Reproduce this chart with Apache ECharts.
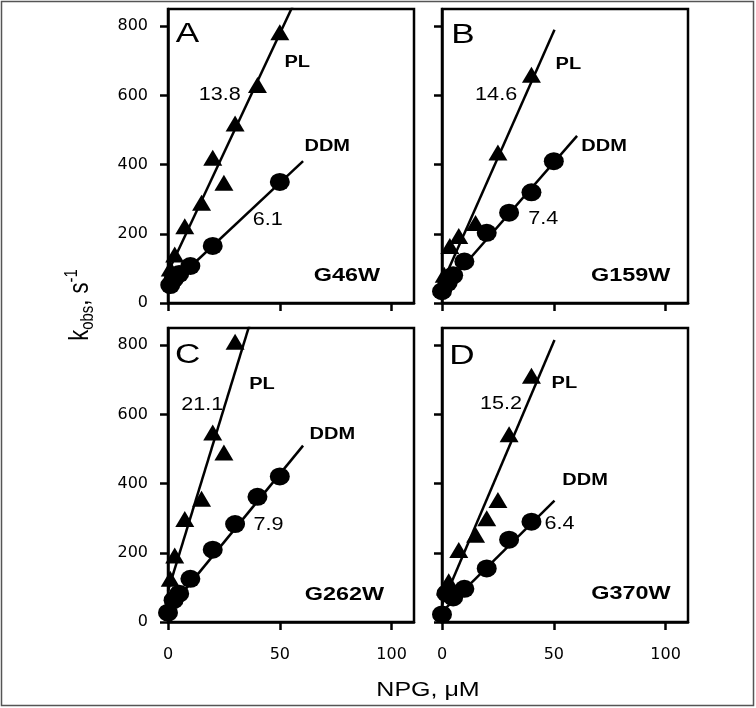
<!DOCTYPE html>
<html><head><meta charset="utf-8">
<script src="https://cdn.jsdelivr.net/npm/echarts@6/dist/echarts.min.js"></script>
<style>html,body{margin:0;padding:0;background:#fff}#c{width:756px;height:708px}</style>
</head><body><div id="c"></div>
<script>
// ---- data ----
const xTicks = [0, 50, 100];
const yTicks = [0, 200, 400, 600, 800];
const panelLetters = ['A', 'B', 'C', 'D'];
const mutants = ['G46W', 'G159W', 'G262W', 'G370W'];
const slopePL = ['13.8', '14.6', '21.1', '15.2'];
const slopeDDM = ['6.1', '7.4', '7.9', '6.4'];

// Panel A (G46W)
const plX_A = [1, 3, 7.5, 15, 20, 25, 30, 40, 50];
const plY_A = [100, 140, 222, 290, 420, 348, 519, 630, 783];
const ddmX_A = [1, 2.5, 5, 10, 20, 50];
const ddmY_A = [52, 68, 84, 107, 165, 350];
const fitPL_A = [[0, 89], [60, 917]];
const fitDDM_A = [[0, 44], [60.4, 410]];

// Panel B (G159W)
const plX_B = [1, 3.5, 7.5, 15, 25, 40];
const plY_B = [82, 165, 194, 231, 435, 660];
const ddmX_B = [0, 2.5, 5, 10, 20, 30, 40, 50];
const ddmY_B = [34, 58, 80, 120, 203, 261, 320, 410];
const fitPL_B = [[0, 55], [50.3, 790]];
const fitDDM_B = [[0, 36], [60.4, 483]];

// Panel C (G262W)
const plX_C = [1, 3, 7.5, 15, 20, 25, 30];
const plY_C = [125, 192, 298, 356, 548, 490, 810];
const ddmX_C = [0, 2.5, 5, 10, 20, 30, 40, 50];
const ddmY_C = [27, 63, 82, 125, 209, 283, 362, 421];
const fitPL_C = [[0, 90], [40, 934]];
const fitDDM_C = [[0, 33], [60.4, 510]];

// Panel D (G370W)
const plX_D = [1.5, 3, 7.5, 15, 20, 25, 30, 40];
const plY_D = [100, 118, 208, 252, 300, 353, 543, 712];
const ddmX_D = [0, 2, 5, 10, 20, 30, 40];
const ddmY_D = [22, 83, 71, 96, 155, 238, 290];
const fitPL_D = [[0, 50], [50.3, 815]];
const fitDDM_D = [[0, 29], [50.3, 351]];

// annotation anchors in data coordinates: [panel, kind, text, x, y]
const notes = [
  [0, 'letter', panelLetters[0], 8.7, 776], [0, 'tag', 'PL', 57.8, 695], [0, 'num', slopePL[0], 23.1, 601],
  [0, 'tag', 'DDM', 71.2, 453], [0, 'num', slopeDDM[0], 44.6, 241], [0, 'mut', mutants[0], 80, 78],
  [1, 'letter', panelLetters[1], 9.4, 774], [1, 'tag', 'PL', 56.5, 689], [1, 'num', slopePL[1], 24.2, 601],
  [1, 'tag', 'DDM', 72.5, 453], [1, 'num', slopeDDM[1], 45.3, 244], [1, 'mut', mutants[1], 84.4, 79],
  [2, 'letter', panelLetters[2], 8.8, 771], [2, 'tag', 'PL', 42, 685], [2, 'num', slopePL[2], 15.3, 626],
  [2, 'tag', 'DDM', 73.5, 543], [2, 'num', slopeDDM[2], 44.9, 280], [2, 'mut', mutants[2], 78.9, 77],
  [3, 'letter', panelLetters[3], 8.9, 768], [3, 'tag', 'PL', 54.7, 689], [3, 'num', slopePL[3], 26.4, 630],
  [3, 'tag', 'DDM', 64, 410], [3, 'num', slopeDDM[3], 52.5, 284], [3, 'mut', mutants[3], 84.5, 81]
];

// ---- chart ----
const FONT = "'Liberation Sans', Arial, Helvetica, sans-serif";
const panelsData = [
  [plX_A, plY_A, ddmX_A, ddmY_A, fitPL_A, fitDDM_A],
  [plX_B, plY_B, ddmX_B, ddmY_B, fitPL_B, fitDDM_B],
  [plX_C, plY_C, ddmX_C, ddmY_C, fitPL_C, fitDDM_C],
  [plX_D, plY_D, ddmX_D, ddmY_D, fitPL_D, fitDDM_D]
];
const gridPos = [{left: 168, top: 9}, {left: 442, top: 9}, {left: 168, top: 328}, {left: 442, top: 328}];
const zip = (xs, ys) => xs.map((x, i) => [x, ys[i]]);

const chart = echarts.init(document.getElementById('c'), null, {renderer: 'canvas'});
const series = [];
panelsData.forEach((p, i) => {
  const [px, py, dx, dy, fp, fd] = p;
  const lineBase = {type: 'line', xAxisIndex: i, yAxisIndex: i, symbol: 'none', clip: true,
    lineStyle: {color: '#000', width: 2.5}, z: 2, silent: true};
  series.push(Object.assign({}, lineBase, {name: 'PL fit', data: fp}));
  series.push(Object.assign({}, lineBase, {name: 'DDM fit', data: fd}));
  series.push({type: 'scatter', name: 'PL', xAxisIndex: i, yAxisIndex: i, data: zip(px, py),
    symbol: 'triangle', symbolSize: [19, 16], itemStyle: {color: '#000', opacity: 1}, z: 3, clip: false});
  series.push({type: 'scatter', name: 'DDM', xAxisIndex: i, yAxisIndex: i, data: zip(dx, dy),
    symbol: 'circle', symbolSize: [20, 18], itemStyle: {color: '#000', opacity: 1}, z: 4, clip: false});
});

chart.setOption({
  animation: false,
  backgroundColor: '#fff',
  grid: gridPos.map(g => ({left: g.left, top: g.top, width: 246, height: 294, show: true,
    borderColor: '#000', borderWidth: 2.5, backgroundColor: 'transparent'})),
  xAxis: [0, 1, 2, 3].map(i => ({
    type: 'value', gridIndex: i, min: 0, max: 110, interval: 50,
    axisLine: {show: true, onZero: false, lineStyle: {color: '#000', width: 2.5}},
    axisTick: {show: true, inside: false, length: 8, lineStyle: {color: '#000', width: 2.5}, customValues: xTicks},
    axisLabel: {show: i >= 2, customValues: xTicks, margin: 25, fontSize: 16, color: '#000', fontFamily: "'DejaVu Sans', sans-serif"},
    splitLine: {show: false}
  })),
  yAxis: [0, 1, 2, 3].map(i => ({
    type: 'value', gridIndex: i, min: 0, max: 850, interval: 200,
    axisLine: {show: true, onZero: false, lineStyle: {color: '#000', width: 2.5}},
    axisTick: {show: true, inside: false, length: 8, lineStyle: {color: '#000', width: 2.5}, customValues: yTicks},
    axisLabel: {show: i % 2 === 0, customValues: yTicks, margin: 20, fontSize: 16, color: '#000', fontFamily: "'DejaVu Sans', sans-serif"},
    splitLine: {show: false}
  })),
  series: series
});

const styles = {
  letter: {size: 27, weight: 'normal', sx: 1.3},
  tag: {size: 16, weight: 'bold', sx: 1.25},
  num: {size: 18, weight: 'normal', sx: 1.2},
  mut: {size: 18, weight: 'bold', sx: 1.3}
};
const graphics = notes.map(n => {
  const [gi, kind, text, x, y] = n;
  const pt = chart.convertToPixel({gridIndex: gi}, [x, y]);
  const s = styles[kind];
  return {type: 'text', x: pt[0], y: pt[1], scaleX: s.sx, z: 10, silent: true,
    style: {text: text, align: 'center', verticalAlign: 'middle', fill: '#000',
      font: s.weight + ' ' + s.size + 'px ' + FONT}};
});
// axis titles
graphics.push({type: 'text', x: 428, y: 690, scaleX: 1.25, z: 10,
  style: {text: 'NPG, \u03bcM', align: 'center', verticalAlign: 'middle', fill: '#000', font: 'normal 20px ' + FONT}});
graphics.push({type: 'text', x: 80, y: 305, rotation: Math.PI / 2, scaleY: 1.25, z: 10,
  style: {text: '{k|k}{s|obs}{k|, s}{p|-1}', align: 'center', verticalAlign: 'middle', fill: '#000',
    font: 'normal 22px ' + FONT,
    rich: {
      k: {fontSize: 22, fontFamily: FONT, lineHeight: 28, fill: '#000'},
      s: {fontSize: 15, fontFamily: FONT, verticalAlign: 'bottom', lineHeight: 14, fill: '#000'},
      p: {fontSize: 15, fontFamily: FONT, verticalAlign: 'top', lineHeight: 14, fill: '#000'}
    }}});
// outer border
graphics.push({type: 'rect', z: 10, silent: true, shape: {x: 1.5, y: 1.5, width: 752, height: 704},
  style: {fill: 'none', stroke: '#555', lineWidth: 1.5}});
chart.setOption({graphic: graphics});
</script>
</body></html>
